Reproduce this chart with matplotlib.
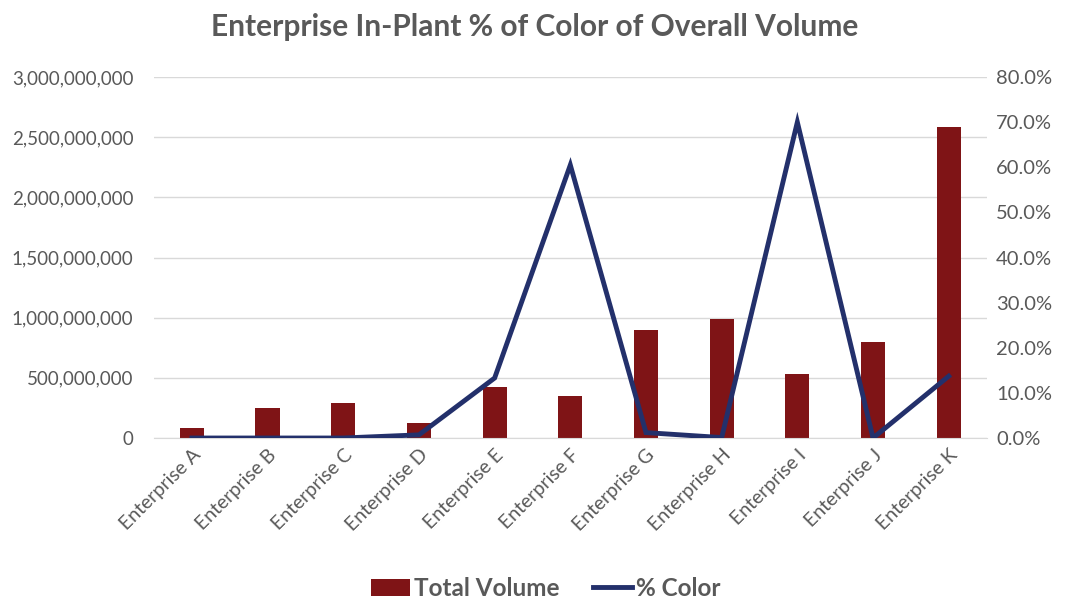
import numpy as np
import matplotlib.pyplot as plt
from matplotlib.ticker import FuncFormatter

plt.rcParams['font.family'] = ['Lato', 'DejaVu Sans']

enterprises = ['Enterprise A', 'Enterprise B', 'Enterprise C', 'Enterprise D', 'Enterprise E',
               'Enterprise F', 'Enterprise G', 'Enterprise H', 'Enterprise I', 'Enterprise J',
               'Enterprise K']
total_volume = [85e6, 248e6, 290e6, 122e6, 426e6, 352e6, 898e6, 986e6, 532e6, 795e6, 2585e6]
pct_color = [0.0, 0.0, 0.0, 0.7, 13.3, 60.5, 1.2, 0.1, 70.0, 0.0, 13.7]

bar_col = '#7f1416'
line_col = '#23306b'
text_col = '#595959'

fig = plt.figure(figsize=(10.7, 6.02), dpi=100)
ax = fig.add_axes([0.144, 0.2724, 0.778, 0.5996])
ax2 = ax.twinx()

x = np.arange(len(enterprises))
ax.bar(x, total_volume, width=0.32, color=bar_col, zorder=2, label='Total Volume')
ax2.plot(x, pct_color, color=line_col, lw=3.5, solid_joinstyle='miter', label='% Color', zorder=3)

ax.set_xlim(-0.5, len(enterprises) - 0.5)
ax.set_ylim(0, 3e9)
ax.set_yticks(np.arange(0, 3.01e9, 5e8))
ax.yaxis.set_major_formatter(FuncFormatter(lambda v, p: f'{v:,.0f}'))
ax2.set_ylim(0, 80)
ax2.set_yticks(np.arange(0, 81, 10))
ax2.yaxis.set_major_formatter(FuncFormatter(lambda v, p: f'{v:.1f}%'))

ax.grid(axis='y', color='#d9d9d9', lw=1, zorder=0)
for a in (ax, ax2):
    for s in a.spines.values():
        s.set_visible(False)
    a.tick_params(length=0, labelcolor=text_col)
ax.tick_params(axis='y', pad=15, labelsize=13.5)
ax2.tick_params(axis='y', pad=7, labelsize=14.5)
ax.spines['bottom'].set_visible(True)
ax.spines['bottom'].set_color('#d9d9d9')

ax.set_xticks(x)
ax.set_xticklabels(enterprises, rotation=45, ha='right', rotation_mode='anchor', fontsize=14)
ax.tick_params(axis='x', pad=6)

fig.suptitle('Enterprise In-Plant % of Color of Overall Volume', fontsize=21.5, fontweight='bold',
             color=text_col, y=0.978)

h1, l1 = ax.get_legend_handles_labels()
h2, l2 = ax2.get_legend_handles_labels()
leg = fig.legend(h1 + h2, l1 + l2, loc='center', bbox_to_anchor=(0.51, 0.023), ncol=2, frameon=False,
                 prop={'size': 17.5, 'weight': 'bold'}, handlelength=1.6, handletextpad=0.15,
                 columnspacing=1.4)
for t in leg.get_texts():
    t.set_color(text_col)

fig.savefig('out.png', dpi=100)
